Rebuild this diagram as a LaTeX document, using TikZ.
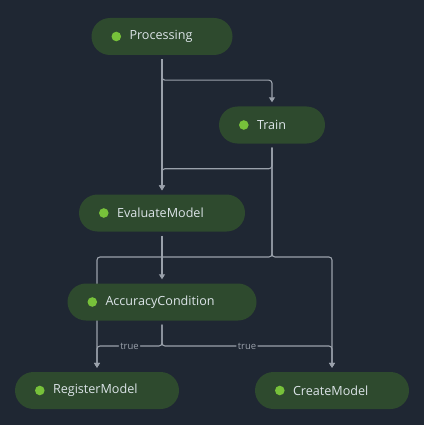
\documentclass[tikz,border=0pt]{standalone}
\usepackage{fontspec}
\setmainfont{Open Sans}
\usetikzlibrary{arrows.meta}
\definecolor{bgcolor}{HTML}{1F2733}
\definecolor{stagefill}{HTML}{2E4A2E}
\definecolor{stagedot}{HTML}{77C13A}
\definecolor{stagetext}{HTML}{DCE4E8}
\definecolor{flowline}{HTML}{9AA1AB}
\pgfdeclarelayer{back}
\pgfdeclarelayer{edges}
\pgfsetlayers{back,edges,main}

\begin{document}
\begin{tikzpicture}[x=1pt, y=-1pt,
    stage/.style={fill=stagefill, rounded corners=18.5pt, minimum height=37pt,
      inner xsep=38pt, inner ysep=0pt, text=stagetext, align=left,
      font=\fontsize{12.6}{14}\selectfont},
    flow/.style={draw=flowline, line width=1.1pt, rounded corners=3pt,
      shorten <=4pt, shorten >=4pt, -{Triangle[width=6pt,length=5pt]}},
    cond/.style={fill=bgcolor, text=flowline, inner sep=1.5pt,
      font=\fontsize{9.5}{11}\selectfont}]

        \begin{pgfonlayer}{back}
          \fill[bgcolor] (0,0) rectangle (424,425);
        \end{pgfonlayer}

        \node[stage, text width=65pt] (processing) at (162,36.5) {Processing};
        \node[stage, text width=30pt] (train) at (272,125) {Train};
        \node[stage, text width=90pt] (evaluate) at (162,213) {EvaluateModel};
        \node[stage, text width=113pt] (accuracy) at (162,302) {AccuracyCondition};
        \node[stage, text width=88pt] (register) at (97,390.5) {RegisterModel};
        \node[stage, text width=78pt] (create) at (332,390.5) {CreateModel};

        \foreach \n in {processing,train,evaluate,accuracy,register,create}
          \fill[stagedot] ([xshift=25pt]\n.west) circle (4.8pt);

        \coordinate (split) at (272,257);
        \coordinate (branch) at (162,346);

        \begin{pgfonlayer}{edges}
          \draw[flow] (processing.south) -- ([yshift=-25pt]processing.south) -| (train.north);
          \draw[flow] (processing.south) -- (evaluate.north);
          \draw[flow] (train.south) -- ([yshift=-25pt]train.south) -| (evaluate.north);
          \draw[flow] (evaluate.south) -- (accuracy.north);
          \draw[flow] (train.south) -- (split) -| (register.north);
          \draw[flow] (train.south) -- (split) -| (create.north);
          \draw[flow] (accuracy.south) -- (branch) -| node[cond, pos=0.25] {true} (register.north);
          \draw[flow] (accuracy.south) -- (branch) -| node[cond, pos=0.25] {true} (create.north);
        \end{pgfonlayer}
      \end{tikzpicture}
\end{document}
